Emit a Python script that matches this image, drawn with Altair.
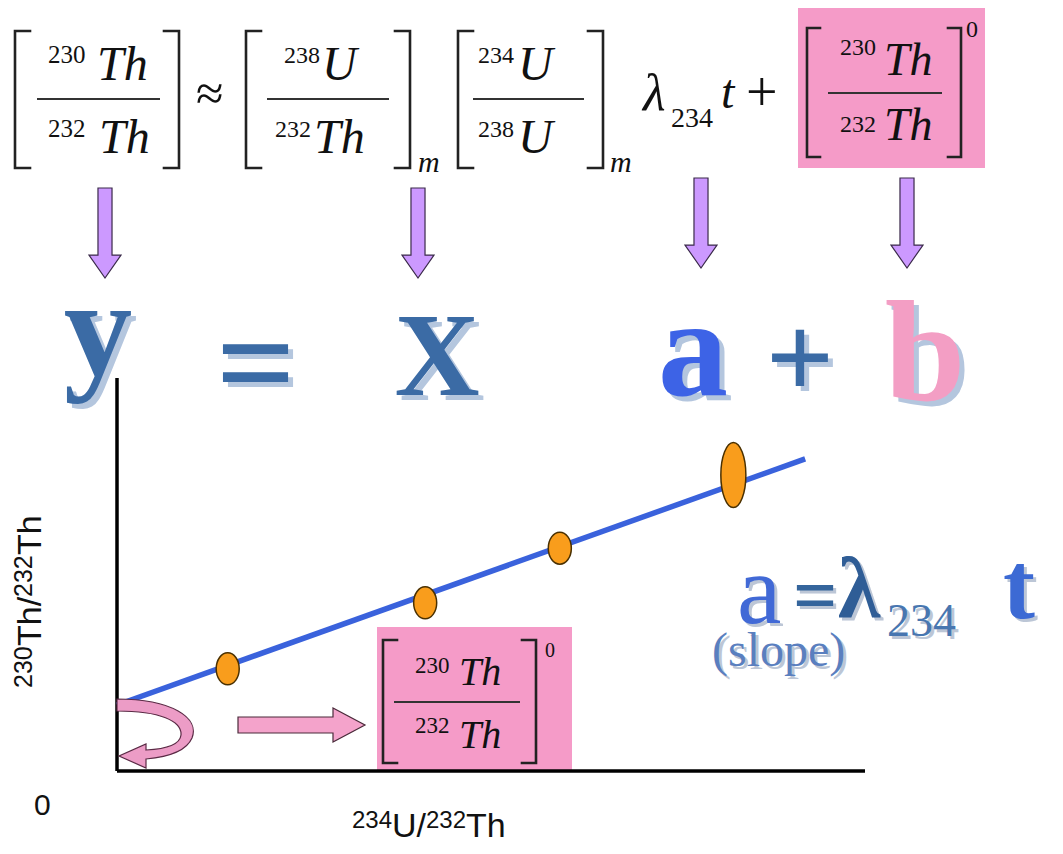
import altair as alt
import pandas as pd

# ---------------- data ----------------
# isochron samples: 234U/232Th (x) and 230Th/232Th (y), arbitrary units
iso_x = [1.48, 4.12, 5.92, 8.24]
iso_y = [2.60, 4.28, 5.67, 7.53]
iso_kind = ["small", "small", "small", "large"]   # last sample: larger uncertainty
# fitted isochron line (intercept = initial ratio)
fit_x = [0.0, 9.2]
fit_y = [1.68, 7.94]

# ---------------- layout helpers (page pixels -> data units) ----------------
W, H = 1046, 837
PX_X0, PX_X10 = 117, 865
PX_Y0, PX_Y10 = 771, 378


def dx(p):
    return (p - PX_X0) * 10.0 / (PX_X10 - PX_X0)


def dy(p):
    return (PX_Y0 - p) * 10.0 / (PX_Y0 - PX_Y10)


XS = alt.Scale(domain=[dx(8), dx(8 + W)], nice=False, zero=False)
YS = alt.Scale(domain=[dy(8 + H), dy(8)], nice=False, zero=False)


def X(f="x"):
    return alt.X(f"{f}:Q", scale=XS, axis=None)


def Y(f="y"):
    return alt.Y(f"{f}:Q", scale=YS, axis=None)


# ---------------- text content ----------------
# (text, left x, baseline y, font size)
eq_italic = [
    ("Th", 97, 80, 48), ("Th", 99, 153, 48),
    ("U", 322, 80, 48), ("Th", 314, 153, 48), ("m", 418, 172, 30),
    ("U", 518, 80, 48), ("U", 518, 153, 48), ("m", 610, 172, 30),
    ("λ", 643, 110, 52), ("t", 721, 108, 48),
    ("Th", 884, 75, 46), ("Th", 884, 140, 46),
    ("Th", 459, 685, 40), ("Th", 459, 748, 40),
]
eq_roman = [
    ("230", 48, 63, 25), ("232", 48, 137, 25),
    ("≈", 196, 110, 50),
    ("238", 284, 63, 24), ("232", 275, 137, 24),
    ("234", 478, 63, 24), ("238", 478, 137, 24),
    ("234", 671, 127, 28), ("+", 746, 111, 56),
    ("230", 840, 55, 24), ("232", 840, 132, 24), ("0", 966, 37, 24),
    ("230", 415, 673, 23), ("232", 415, 733, 23), ("0", 545, 657, 20),
]
STEEL, BRIGHT, PINK = "#3b6ba5", "#3d63e6", "#f39ec4"
big_letters = [
    ("y", 98, 375, 137, STEEL), ("=", 256, 410, 140, STEEL),
    ("X", 437, 395, 118, STEEL), ("a", 693, 395, 140, BRIGHT),
    ("+", 800, 398, 120, STEEL), ("b", 925, 400, 145, PINK),
]
slope_text = [
    ("a", 737, 623, 100, "#4169d6"), ("234", 887, 636, 46, "#4876b0"),
    ("(slope)", 712, 666, 48, "#5a7fbf"),
]
slope_bold = [
    ("=", 793, 621, 78, "#35659c"), ("λ", 838, 617, 86, "#2f5d96"),
    ("t", 1003, 618, 96, "#3c6ad4"),
]
x_label = [("234", 352, 828, 24), ("U/", 392, 837, 34), ("232", 426, 828, 24), ("Th", 466, 837, 34)]
y_label = [("230", 32, 688, 25), ("Th/", 41, 646, 34), ("232", 32, 597, 25), ("Th", 41, 555, 34)]
origin_label = [("0", 34, 815, 30)]

# brackets: (vertical x, tick direction, top, bottom, tick length)
brackets = [
    (15, 1, 31, 168, 15), (179, -1, 31, 168, 15),
    (246, 1, 31, 168, 15), (410, -1, 31, 168, 15),
    (458, 1, 31, 168, 15), (603, -1, 31, 168, 15),
    (807, 1, 28, 157, 13), (961, -1, 28, 157, 13),
    (383, 1, 640, 763, 14), (536, -1, 640, 763, 14),
]
fraction_bars = [(37, 160, 99), (267, 389, 99), (473, 584, 99), (828, 942, 93), (394, 520, 702)]
pink_boxes = [(798, 985, 8, 168), (377, 572, 627, 771)]
down_arrows = [(105, 233), (418, 233), (701, 223), (907, 223)]


def tdf(rows, color="#111111"):
    out = []
    for r in rows:
        c = r[4] if len(r) > 4 else color
        out.append({"t": r[0], "x": dx(r[1]), "y": dy(r[2]), "s": r[3], "c": c})
    return pd.DataFrame(out)


def text_layers(df, font, align="left", style="normal", weight="normal", angle=0,
                shadow=None, off=0):
    enc = dict(x=X(), y=Y(), text="t:N", size=alt.Size("s:Q", scale=None, legend=None))
    props = dict(font=font, align=align, baseline="alphabetic", fontStyle=style,
                 fontWeight=weight, angle=angle)
    layers = []
    if shadow:
        layers.append(alt.Chart(df).mark_text(color=shadow, dx=off, dy=off, **props).encode(**enc))
    layers.append(alt.Chart(df).mark_text(**props).encode(
        color=alt.Color("c:N", scale=None, legend=None), **enc))
    return layers


# ---------------- shapes ----------------
def ellipse_path(rx, ry=1.0):
    k = 0.5523
    return (f"M0,{-ry}C{k*rx:.3f},{-ry} {rx},{-k*ry:.3f} {rx},0"
            f"C{rx},{k*ry:.3f} {k*rx:.3f},{ry} 0,{ry}"
            f"C{-k*rx:.3f},{ry} {-rx},{k*ry:.3f} {-rx},0"
            f"C{-rx},{-k*ry:.3f} {-k*rx:.3f},{-ry} 0,{-ry}Z")


ELL_SMALL = ellipse_path(0.72)
ELL_LARGE = ellipse_path(0.385)
DOWN_ARROW = "M-0.156,-1L0.156,-1L0.156,0.49L0.356,0.49L0,1L-0.356,0.49L-0.156,0.49Z"
RIGHT_ARROW = "M-1,-0.126L0.496,-0.126L0.496,-0.268L1,0L0.496,0.268L0.496,0.126L-1,0.126Z"


def U(px, py, cx=155, cy=735, r=40):
    return f"{(px - cx) / r:.3f},{(py - cy) / r:.3f}"


CURL = ("M" + U(117, 699) + "C" + U(172, 699) + " " + U(200, 718) + " " + U(192, 738)
        + "C" + U(186, 752) + " " + U(168, 757) + " " + U(146, 759)
        + "L" + U(146, 768) + "L" + U(119, 756) + "L" + U(146, 744) + "L" + U(146, 750)
        + "C" + U(165, 749) + " " + U(180, 745) + " " + U(181, 735)
        + "C" + U(182, 721) + " " + U(160, 711) + " " + U(117, 711) + "Z")

# ---------------- layers ----------------
layers = []

box_df = pd.DataFrame([{"x": dx(a), "x2": dx(b), "y": dy(c), "y2": dy(d)} for a, b, c, d in pink_boxes])
layers.append(alt.Chart(box_df).mark_rect(color="#f59bc8").encode(
    x=X(), x2="x2:Q", y=Y(), y2="y2:Q"))

br_rows = []
for i, (xv, d, top, bot, tk) in enumerate(brackets):
    for o, (px, py) in enumerate([(xv + d * tk, top), (xv, top), (xv, bot), (xv + d * tk, bot)]):
        br_rows.append({"id": i, "o": o, "x": dx(px), "y": dy(py)})
layers.append(alt.Chart(pd.DataFrame(br_rows)).mark_line(
    color="#222222", strokeWidth=2.6, strokeJoin="miter", strokeCap="square").encode(
    x=X(), y=Y(), detail="id:N", order="o:Q"))

fb_df = pd.DataFrame([{"x": dx(a), "x2": dx(b), "y": dy(c)} for a, b, c in fraction_bars])
layers.append(alt.Chart(fb_df).mark_rule(color="#333333", strokeWidth=2).encode(
    x=X(), x2="x2:Q", y=Y()))

layers += text_layers(tdf(eq_italic), "Liberation Serif", style="italic")
layers += text_layers(tdf(eq_roman), "Liberation Serif")

arr_df = pd.DataFrame([{"x": dx(a), "y": dy(b)} for a, b in down_arrows])
layers.append(alt.Chart(arr_df).mark_point(
    shape=DOWN_ARROW, size=8100, filled=True, fill="#cc99ff", stroke="#3a2a4a",
    strokeWidth=1.2, opacity=1).encode(x=X(), y=Y()))

layers += text_layers(tdf(big_letters), "Liberation Serif", align="center", weight="bold",
                      shadow="#b4c6de", off=5)

axes_df = pd.DataFrame({"x": [0.0, 0.0], "y": [0.0, 0.0], "x2": [10.0, 0.0], "y2": [0.0, 10.0]})
layers.append(alt.Chart(axes_df).mark_rule(color="#000000", strokeWidth=3.5).encode(
    x=X(), y=Y(), x2="x2:Q", y2="y2:Q"))

fit_df = pd.DataFrame({"x": fit_x, "y": fit_y})
layers.append(alt.Chart(fit_df).mark_line(color="#3a62dc", strokeWidth=5.5).encode(x=X(), y=Y()))

pts_df = pd.DataFrame({"x": iso_x, "y": iso_y, "kind": iso_kind})
layers.append(alt.Chart(pts_df).mark_point(
    filled=True, fill="#f99d1c", stroke="#4a3000", strokeWidth=1.5, opacity=1).encode(
    x=X(), y=Y(),
    shape=alt.Shape("kind:N", scale=alt.Scale(domain=["small", "large"], range=[ELL_SMALL, ELL_LARGE]), legend=None),
    size=alt.Size("kind:O", scale=alt.Scale(domain=["small", "large"], range=[1024, 4225]), legend=None)))

ra_df = pd.DataFrame({"x": [dx(301.5)], "y": [dy(725)]})
layers.append(alt.Chart(ra_df).mark_point(
    shape=RIGHT_ARROW, size=16129, filled=True, fill="#f4a3cb", stroke="#4a2a3a",
    strokeWidth=1.2, opacity=1).encode(x=X(), y=Y()))

curl_df = pd.DataFrame({"x": [dx(155)], "y": [dy(735)]})
layers.append(alt.Chart(curl_df).mark_point(
    shape=CURL, size=6400, filled=True, fill="#ec9cc6", stroke="#5a2a45",
    strokeWidth=1.2, opacity=1).encode(x=X(), y=Y()))

layers += text_layers(tdf(slope_text), "Liberation Serif", shadow="#bcc6d6", off=3)
layers += text_layers(tdf(slope_bold), "Liberation Serif", weight="bold", shadow="#bcc6d6", off=3)
layers += text_layers(tdf(x_label), "Liberation Sans")
layers += text_layers(tdf(origin_label), "Liberation Sans")
layers += text_layers(tdf(y_label), "Liberation Sans", angle=270)

chart = alt.layer(*layers).properties(
    width=W, height=H, padding=0, autosize=alt.AutoSizeParams(type="none"),
    background="#ffffff",
).configure_view(stroke=None)

chart.save("out.html", embed_options={"renderer": "svg", "actions": False})
